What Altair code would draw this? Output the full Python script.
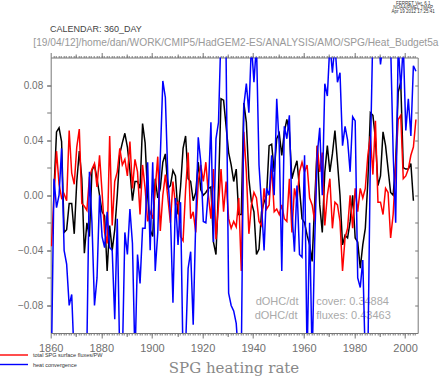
import altair as alt
import pandas as pd

# ---------------- data ----------------
years = list(range(1860, 2005))

# dOHC/dt (black)
black_vals = [
    None, 0.004, 0.046, 0.049, 0.039, -0.027, -0.025, -0.006, -0.006, -0.028,
    0.010, 0.032, 0.012, -0.042, -0.020, -0.030, 0.018, 0.022, 0.012, 0.000,
    -0.012, -0.015, -0.055, -0.022, -0.040, -0.025, 0.000, 0.030, 0.038, 0.045,
    0.035, 0.018, -0.004, 0.010, 0.010, 0.005, 0.052, 0.038, 0.000, -0.025,
    -0.030, 0.012, -0.002, 0.005, 0.024, 0.030, 0.005, 0.007, 0.018, 0.014,
    -0.014, 0.006, 0.034, 0.043, 0.012, 0.010, -0.004, 0.002, 0.024, 0.004,
    0.000, 0.002, 0.005, 0.006, -0.034, -0.043, 0.005, 0.070, 0.069, 0.050,
    0.031, 0.022, 0.010, 0.019, -0.014, -0.014, 0.067, 0.053, 0.012, -0.005,
    -0.012, -0.043, -0.039, -0.012, -0.005, 0.000, 0.036, 0.037, 0.017, 0.041,
    0.045, 0.029, 0.046, 0.055, 0.046, 0.012, 0.019, 0.025, 0.005, -0.017,
    -0.020, -0.029, -0.036, -0.048, -0.005, 0.036, -0.007, -0.027, 0.017, 0.036,
    0.017, 0.030, 0.047, 0.024, 0.000, -0.036, -0.029, -0.031, -0.019, 0.000,
    -0.031, -0.034, -0.053, -0.036, -0.024, 0.010, 0.060, 0.058, 0.041, 0.007,
    0.014, 0.046, 0.036, 0.019, 0.002, 0.000, 0.024, 0.075, 0.082, 0.020,
    0.019, 0.019, 0.023, -0.004, None,
]

# total SPG surface fluxes/PW (red)
red_vals = [
    -0.037, 0.000, 0.032, 0.008, -0.002, 0.001, -0.004, 0.047, 0.016, 0.008,
    0.035, 0.048, -0.006, -0.008, -0.011, 0.013, 0.019, 0.023, 0.006, 0.029,
    0.002, -0.027, -0.035, 0.043, -0.022, 0.010, 0.017, 0.034, 0.022, 0.026,
    0.014, 0.039, 0.005, 0.026, 0.017, -0.014, 0.022, 0.005, -0.019, -0.012,
    -0.017, 0.005, 0.028, -0.026, 0.000, 0.015, -0.002, -0.020, 0.010, -0.007,
    -0.005, -0.030, -0.033, 0.004, 0.031, -0.017, -0.012, -0.027, 0.010, 0.022,
    0.010, 0.024, 0.000, -0.017, 0.019, -0.032, -0.007, 0.019, -0.012, 0.010,
    -0.017, -0.024, -0.019, -0.023, -0.002, -0.055, 0.046, 0.017, -0.028, -0.007,
    0.002, -0.002, -0.019, -0.022, 0.005, -0.010, -0.007, 0.022, -0.012, -0.010,
    -0.014, -0.007, -0.017, -0.019, 0.012, -0.027, 0.005, -0.004, 0.017, 0.024,
    0.017, 0.022, -0.002, -0.007, -0.019, 0.036, 0.017, 0.031, -0.022, 0.000,
    0.012, -0.024, -0.005, -0.007, -0.019, -0.055, -0.031, -0.024, 0.000, -0.024,
    0.005, -0.012, 0.005, -0.002, 0.005, 0.029, 0.043, 0.015, 0.054, -0.005,
    -0.005, -0.014, 0.005, 0.002, -0.031, -0.014, 0.020, 0.055, 0.058, 0.012,
    0.014, 0.019, 0.029, 0.035, 0.055,
]

# heat convergence (blue)
blue_vals = [
    -0.120, 0.012, -0.009, 0.000, 0.034, -0.040, -0.050, -0.080, -0.072, -0.120,
    -0.130, -0.140, -0.130, -0.120, -0.110, 0.017, -0.020, -0.080, -0.060, 0.000,
    -0.030, -0.038, -0.012, -0.038, -0.040, -0.090, -0.017, -0.120, -0.120, -0.027,
    -0.043, -0.010, -0.035, -0.120, -0.043, -0.064, -0.024, -0.024, 0.024, -0.040,
    0.024, -0.055, -0.027, 0.028, 0.083, 0.071, 0.012, -0.014, -0.078, -0.002,
    -0.036, -0.005, -0.120, -0.110, -0.053, -0.041, -0.094, -0.019, 0.042, 0.024,
    -0.019, -0.020, 0.003, 0.053, -0.034, 0.041, 0.053, 0.120, 0.110, 0.100,
    -0.071, -0.080, -0.084, -0.093, -0.120, -0.120, 0.065, 0.081, 0.060, 0.110,
    0.082, 0.110, 0.022, -0.007, -0.040, 0.005, 0.000, 0.029, 0.000, 0.070,
    0.036, -0.055, 0.050, 0.041, 0.058, -0.012, -0.041, 0.007, -0.043, -0.045,
    0.029, -0.120, -0.020, -0.120, -0.034, 0.029, 0.049, 0.000, 0.081, 0.072,
    0.110, 0.089, 0.110, 0.082, 0.089, 0.036, 0.050, 0.040, 0.017, 0.057,
    0.054, -0.060, -0.067, -0.047, -0.120, -0.120, 0.029, 0.120, 0.130, 0.120,
    0.095, 0.110, 0.120, 0.130, 0.110, 0.031, -0.020, 0.110, 0.077, 0.110,
    0.047, 0.070, 0.043, 0.094, 0.090,
]

x_major = [1860, 1880, 1900, 1920, 1940, 1960, 1980, 2000]
x_mid = [1870, 1890, 1910, 1930, 1950, 1970, 1990]
x_minor = list(range(1861, 2005))
y_major = [-0.08, -0.04, 0.0, 0.04, 0.08]
y_minor = [-0.08, -0.06, -0.04, -0.02, 0.0, 0.02, 0.04, 0.06, 0.08]

legend_labels = ["total SPG surface fluxes/PW", "heat convergence"]
legend_colors = ["#ff0000", "#0000ff"]
stat_names = ["dOHC/dt", "dOHC/dt"]
stat_texts = ["cover: 0.34884", "fluxes: 0.43463"]
ferret_lines = ["FERRET Ver. 6.1", "NOAA/PMEL TMAP", "Apr 19 2012 17:25:41"]
calendar_text = "CALENDAR: 360_DAY"
path_text = "[19/04/12]/home/dan/WORK/CMIP5/HadGEM2-ES/ANALYSIS/AMO/SPG/Heat_Budget5a"
caption_text = "SPG heating rate"

df = pd.DataFrame({
    "t": [y + 0.3 for y in years],
    "black": black_vals,
    "red": red_vals,
    "blue": blue_vals,
})

# ---------------- scales / styling ----------------
W, H = 367, 275.5
xs = alt.Scale(domain=[1860, 2005], nice=False, zero=False)
ys = alt.Scale(domain=[-0.1, 0.1], nice=False, zero=False)
AX = "#777777"
LAB = "#6f6f6f"
FONT = "Liberation Sans"

base = alt.Chart(df)


def series(col, color):
    return base.mark_line(color=color, strokeWidth=1.5, clip=True).encode(
        x=alt.X("t:Q", scale=xs, axis=None),
        y=alt.Y(f"{col}:Q", scale=ys, axis=None),
    )


def x_axis_layer(values, orient, size, labels):
    return base.mark_point(opacity=0).encode(
        x=alt.X("t:Q", scale=xs, axis=alt.Axis(
            values=values, orient=orient, tickSize=size, labels=labels,
            domain=False, grid=False, title=None, tickColor=AX, tickWidth=1,
            labelColor=LAB, labelFontSize=11, labelFont=FONT, labelPadding=4,
            format="d", labelFlush=False, labelOverlap=False, labelBound=False)),
        y=alt.Y("red:Q", scale=ys, axis=None),
    )


def y_axis_layer(values, orient, size, labels, offset=0):
    return base.mark_point(opacity=0).encode(
        x=alt.X("t:Q", scale=xs, axis=None),
        y=alt.Y("red:Q", scale=ys, axis=alt.Axis(
            values=values, orient=orient, tickSize=size, labels=labels,
            domain=False, grid=False, title=None, tickColor=AX, tickWidth=1,
            labelColor=LAB, labelFontSize=10, labelFont=FONT, labelPadding=4,
            format=".2f", offset=offset, labelFlush=False, labelOverlap=False)),
    )


def txt(text, x, y, size, color, align="left", font=FONT):
    return alt.Chart(pd.DataFrame({"label": [text]})).mark_text(
        align=align, baseline="middle", fontSize=size, color=color, font=font
    ).encode(x=alt.value(x), y=alt.value(y), text="label:N")


layers = [
    x_axis_layer(x_major, "bottom", 5, True),
    x_axis_layer(x_mid, "bottom", 3.5, False),
    x_axis_layer(x_minor, "bottom", 2, False),
    x_axis_layer(x_major, "top", 5, False),
    x_axis_layer(x_mid, "top", 3.5, False),
    x_axis_layer(x_minor, "top", 2, False),
    y_axis_layer(y_major, "left", 4, True),
    y_axis_layer(y_minor, "left", 4, False),
    y_axis_layer(y_minor, "right", 3, False, offset=-3),
]

# statistics text (drawn under the curves)
for i in range(2):
    layers.append(txt(stat_names[i], 205.0 - i, 244.5 + 14 * i, 11, "#aaaaaa"))
    layers.append(txt(stat_texts[i], 265.5, 244.5 + 14 * i, 11, "#aaaaaa"))

layers += [
    series("black", "#000000"),
    series("red", "#ff0000"),
    series("blue", "#0000ff"),
]

# header texts
for i, line in enumerate(ferret_lines):
    layers.append(txt(line, 362.5, -54 + 4 * i, 4.5, "#333333", align="center"))
layers.append(txt(calendar_text, -0.7, -29, 9, "#444444"))
layers.append(txt(path_text, -17.4, -15, 10.2, "#999999"))

# legend (manual)
for i in range(2):
    ly = 297.5 + 9.5 * i
    layers.append(
        alt.Chart(pd.DataFrame({"c": [legend_colors[i]]})).mark_rule(strokeWidth=1.4)
        .encode(x=alt.value(-50.7), x2=alt.value(-22.7), y=alt.value(ly),
                color=alt.Color("c:N", scale=None))
    )
    layers.append(txt(legend_labels[i], -17.7, ly, 5.5, "#333333"))

layers.append(txt(caption_text, 183.3, 310.5, 15, "#888888", align="center",
                  font="DejaVu Serif"))

chart = alt.layer(*layers).resolve_axis(x="independent", y="independent").properties(
    width=W, height=H,
    autosize=alt.AutoSizeParams(type="none"),
    padding={"left": 50.7, "top": 57.5, "right": 22.3, "bottom": 44},
    background="white",
).configure_view(stroke=AX, strokeWidth=1)

chart.save("out.html", embed_options={"renderer": "svg", "actions": False})
